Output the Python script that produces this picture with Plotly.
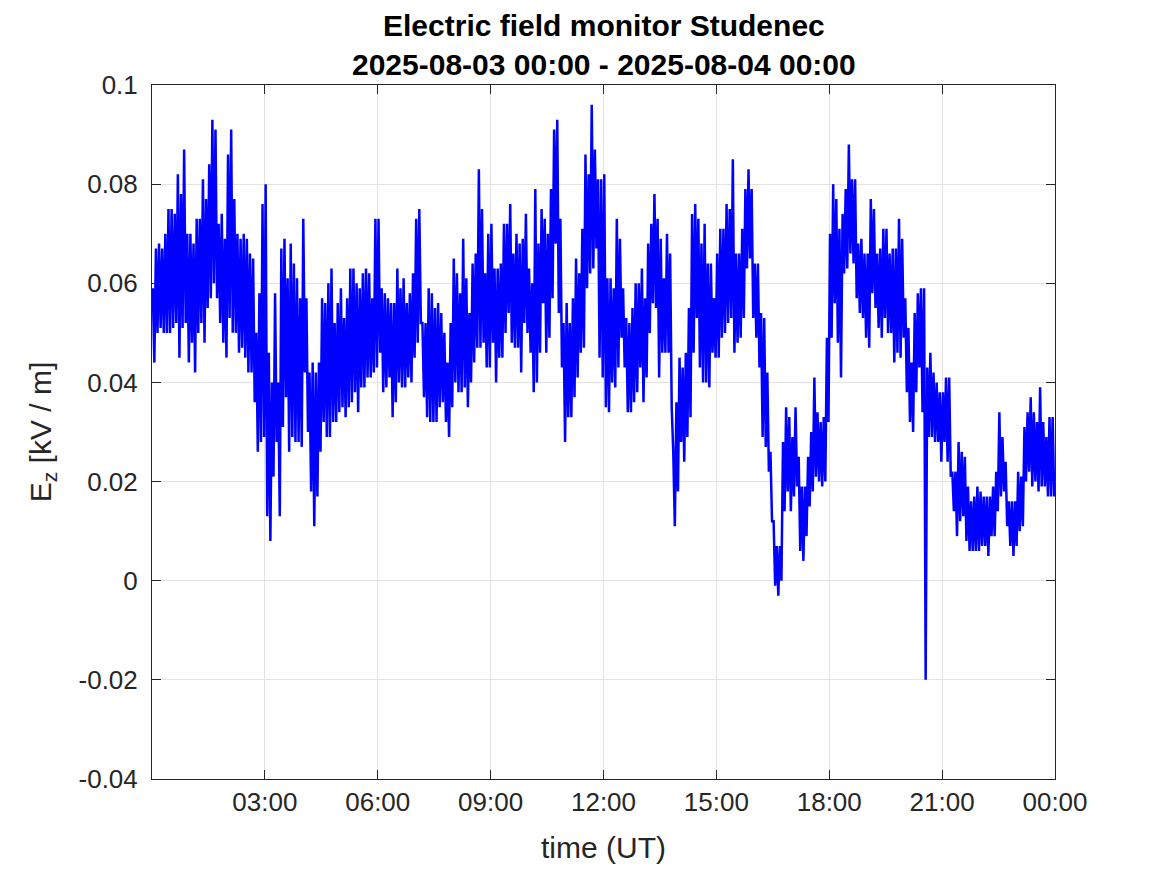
import pandas as pd
import plotly.graph_objects as go

# 5-minute bins, upper and lower envelope of the Ez trace [kV/m]
bin_start = pd.date_range("2025-08-03 00:00", periods=288, freq="5min")

ez_high = [
    # 00:00 - 06:00
    0.059, 0.067, 0.068, 0.067, 0.070, 0.075, 0.075, 0.074, 0.082, 0.078, 0.087, 0.070,
    0.070, 0.068, 0.073, 0.073, 0.081, 0.077, 0.084, 0.093, 0.091, 0.072, 0.074, 0.069,
    0.086, 0.091, 0.077, 0.070, 0.069, 0.070, 0.069, 0.066, 0.065, 0.050, 0.058, 0.076,
    0.080, 0.046, 0.040, 0.058, 0.040, 0.067, 0.069, 0.061, 0.068, 0.064, 0.061, 0.057,
    0.073, 0.057, 0.042, 0.044, 0.042, 0.044, 0.057, 0.056, 0.060, 0.063, 0.052, 0.056,
    0.059, 0.053, 0.057, 0.063, 0.063, 0.060, 0.059, 0.062, 0.063, 0.062, 0.057, 0.073,
    # 06:00 - 12:00
    0.073, 0.059, 0.058, 0.057, 0.056, 0.056, 0.063, 0.059, 0.061, 0.056, 0.058, 0.062,
    0.073, 0.075, 0.052, 0.052, 0.059, 0.058, 0.055, 0.056, 0.054, 0.050, 0.044, 0.052,
    0.065, 0.062, 0.058, 0.069, 0.061, 0.054, 0.064, 0.066, 0.083, 0.075, 0.062, 0.070,
    0.072, 0.063, 0.063, 0.064, 0.072, 0.072, 0.076, 0.066, 0.070, 0.068, 0.069, 0.074,
    0.063, 0.060, 0.079, 0.068, 0.075, 0.073, 0.070, 0.079, 0.091, 0.093, 0.073, 0.052,
    0.056, 0.052, 0.057, 0.065, 0.062, 0.071, 0.086, 0.082, 0.096, 0.087, 0.081, 0.081,
    # 12:00 - 18:00
    0.082, 0.061, 0.061, 0.059, 0.073, 0.069, 0.059, 0.053, 0.052, 0.055, 0.060, 0.060,
    0.063, 0.057, 0.068, 0.072, 0.078, 0.073, 0.069, 0.061, 0.070, 0.066, 0.026, 0.036,
    0.045, 0.043, 0.046, 0.055, 0.074, 0.076, 0.073, 0.068, 0.072, 0.064, 0.064, 0.057,
    0.066, 0.071, 0.071, 0.076, 0.075, 0.085, 0.066, 0.066, 0.071, 0.079, 0.083, 0.079,
    0.064, 0.064, 0.054, 0.053, 0.042, 0.026, 0.012, 0.007, 0.007, 0.028, 0.035, 0.033,
    0.029, 0.035, 0.025, 0.019, 0.019, 0.025, 0.030, 0.041, 0.034, 0.032, 0.033, 0.049,
    # 18:00 - 24:00
    0.070, 0.080, 0.077, 0.071, 0.074, 0.079, 0.088, 0.081, 0.081, 0.068, 0.069, 0.066,
    0.066, 0.077, 0.075, 0.066, 0.067, 0.071, 0.071, 0.066, 0.067, 0.067, 0.073, 0.069,
    0.057, 0.051, 0.044, 0.054, 0.058, 0.059, 0.059, 0.043, 0.046, 0.042, 0.040, 0.038,
    0.038, 0.041, 0.041, 0.022, 0.022, 0.028, 0.026, 0.025, 0.019, 0.016, 0.017, 0.019,
    0.018, 0.017, 0.017, 0.017, 0.019, 0.022, 0.034, 0.029, 0.024, 0.016, 0.016, 0.016,
    0.022, 0.021, 0.031, 0.034, 0.037, 0.034, 0.032, 0.039, 0.032, 0.029, 0.033, 0.033,
]
ez_low = [
    # 00:00 - 06:00
    0.044, 0.050, 0.051, 0.050, 0.050, 0.050, 0.051, 0.052, 0.045, 0.051, 0.052, 0.044,
    0.048, 0.042, 0.050, 0.052, 0.048, 0.055, 0.057, 0.060, 0.057, 0.052, 0.048, 0.045,
    0.053, 0.050, 0.050, 0.046, 0.047, 0.045, 0.042, 0.042, 0.036, 0.026, 0.028, 0.029,
    0.013, 0.008, 0.021, 0.028, 0.013, 0.031, 0.037, 0.026, 0.029, 0.028, 0.028, 0.027,
    0.042, 0.030, 0.018, 0.011, 0.017, 0.026, 0.032, 0.029, 0.029, 0.032, 0.032, 0.034,
    0.035, 0.033, 0.035, 0.036, 0.038, 0.034, 0.039, 0.039, 0.041, 0.041, 0.042, 0.043,
    # 06:00 - 12:00
    0.046, 0.038, 0.039, 0.041, 0.033, 0.036, 0.040, 0.039, 0.039, 0.041, 0.040, 0.045,
    0.048, 0.052, 0.037, 0.033, 0.032, 0.032, 0.032, 0.035, 0.036, 0.032, 0.029, 0.035,
    0.040, 0.038, 0.038, 0.039, 0.035, 0.040, 0.044, 0.047, 0.047, 0.048, 0.043, 0.043,
    0.048, 0.040, 0.045, 0.045, 0.050, 0.054, 0.048, 0.047, 0.047, 0.042, 0.052, 0.050,
    0.046, 0.038, 0.040, 0.046, 0.056, 0.046, 0.049, 0.057, 0.068, 0.054, 0.043, 0.028,
    0.033, 0.033, 0.037, 0.041, 0.046, 0.047, 0.059, 0.062, 0.063, 0.067, 0.045, 0.041,
    # 12:00 - 18:00
    0.035, 0.034, 0.040, 0.039, 0.043, 0.049, 0.043, 0.034, 0.034, 0.036, 0.038, 0.043,
    0.036, 0.041, 0.050, 0.056, 0.055, 0.041, 0.046, 0.046, 0.046, 0.035, 0.011, 0.018,
    0.028, 0.024, 0.029, 0.033, 0.046, 0.053, 0.043, 0.040, 0.040, 0.039, 0.046, 0.045,
    0.045, 0.049, 0.050, 0.052, 0.053, 0.046, 0.048, 0.049, 0.053, 0.063, 0.065, 0.053,
    0.049, 0.043, 0.029, 0.027, 0.022, 0.012, -0.001, -0.003, 0.000, 0.014, 0.018, 0.014,
    0.017, 0.019, 0.006, 0.004, 0.009, 0.015, 0.018, 0.021, 0.020, 0.019, 0.020, 0.032,
    # 18:00 - 24:00
    0.049, 0.056, 0.048, 0.041, 0.062, 0.063, 0.066, 0.064, 0.057, 0.054, 0.053, 0.049,
    0.047, 0.058, 0.055, 0.051, 0.049, 0.053, 0.050, 0.050, 0.044, 0.046, 0.045, 0.049,
    0.038, 0.032, 0.030, 0.038, 0.043, 0.034, -0.020, 0.029, 0.029, 0.028, 0.028, 0.024,
    0.028, 0.024, 0.021, 0.014, 0.009, 0.012, 0.013, 0.008, 0.006, 0.006, 0.006, 0.006,
    0.007, 0.007, 0.005, 0.009, 0.009, 0.014, 0.017, 0.018, 0.011, 0.007, 0.005, 0.007,
    0.010, 0.011, 0.020, 0.022, 0.019, 0.020, 0.018, 0.019, 0.019, 0.017, 0.017, 0.017,
]

y_ticks = [-0.04, -0.02, 0, 0.02, 0.04, 0.06, 0.08, 0.1]
y_tick_labels = ["-0.04", "-0.02", "0", "0.02", "0.04", "0.06", "0.08", "0.1"]
x_tick_hours = [3, 6, 9, 12, 15, 18, 21, 24]
x_tick_labels = ["03:00", "06:00", "09:00", "12:00", "15:00", "18:00", "21:00", "00:00"]
title_lines = ["Electric field monitor Studenec", "2025-08-03 00:00 - 2025-08-04 00:00"]

# zigzag through each bin: high then low
times, ez = [], []
for t, hi, lo in zip(bin_start, ez_high, ez_low):
    times += [t + pd.Timedelta(seconds=75), t + pd.Timedelta(seconds=225)]
    ez += [hi, lo]

t0 = pd.Timestamp("2025-08-03 00:00")
x_ticks = [t0 + pd.Timedelta(hours=h) for h in x_tick_hours]

fig = go.Figure()
fig.add_trace(go.Scatter(x=times, y=ez, mode="lines",
                         line=dict(color="#0000ff", width=2.5), showlegend=False))

axis_style = dict(
    showline=True, linecolor="#262626", linewidth=1, mirror="ticks",
    ticks="inside", ticklen=9, tickcolor="#262626",
    showgrid=True, gridcolor="#e3e3e3", gridwidth=1, zeroline=False,
    tickfont=dict(size=26, color="#262626"),
)
fig.update_xaxes(
    range=[t0, t0 + pd.Timedelta(hours=24)],
    tickvals=x_ticks, ticktext=x_tick_labels,
    title=dict(text="time (UT)", font=dict(size=30, color="#262626"), standoff=20),
    **axis_style,
)
fig.update_yaxes(
    range=[-0.04, 0.1], tickvals=y_ticks, ticktext=y_tick_labels,
    title=dict(text="E<sub>z</sub> [kV / m]", font=dict(size=30, color="#262626"), standoff=18),
    ticklabelstandoff=8,
    **axis_style,
)

# two-line bold title, centred over the axes
for line, ypos in zip(title_lines, [1.086, 1.030]):
    fig.add_annotation(text=f"<b>{line}</b>", xref="paper", yref="paper",
                       x=0.5, y=ypos, xanchor="center", yanchor="middle",
                       showarrow=False, font=dict(size=30, color="black"))

# the page adds an 8px body margin, so the figure is 8px smaller
fig.update_layout(
    width=1159, height=867,
    margin=dict(l=144, r=112, t=77, b=96),
    paper_bgcolor="white", plot_bgcolor="white",
    font=dict(family="Liberation Sans, Arial, sans-serif", color="#262626"),
)

fig.write_html("out.html")
